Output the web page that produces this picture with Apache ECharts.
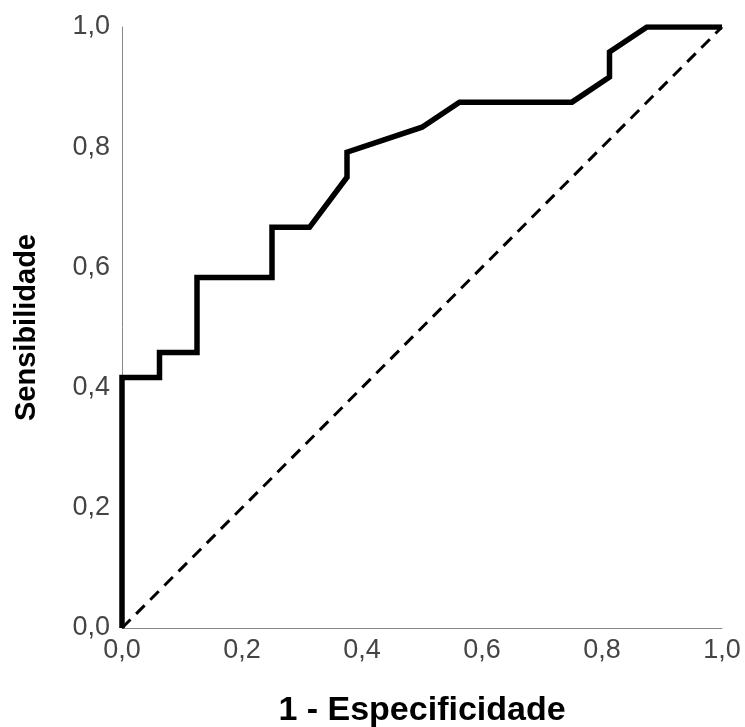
<!DOCTYPE html>
<html>
<head>
<meta charset="utf-8">
<script src="https://cdn.jsdelivr.net/npm/echarts@6/dist/echarts.min.js"></script>
<style>
  html, body { margin: 0; padding: 0; background: #fff; }
  #chart { width: 745px; height: 727px; }
</style>
</head>
<body>
<div id="chart"></div>
<script>
// ROC curve points (1 - specificity, sensitivity)
var fpr = [0, 0, 0.0625, 0.0625, 0.125, 0.125, 0.25, 0.25, 0.3125, 0.375, 0.375, 0.5, 0.5625, 0.75, 0.8125, 0.8125, 0.875, 1];
var tpr = [0, 0.4167, 0.4167, 0.4583, 0.4583, 0.5833, 0.5833, 0.6667, 0.6667, 0.75, 0.7917, 0.8333, 0.875, 0.875, 0.9167, 0.9583, 1, 1];
// reference diagonal
var refX = [0, 1];
var refY = [0, 1];

var chart = echarts.init(document.getElementById('chart'));

function fmt(v) {
  return v.toFixed(1).replace('.', ',');
}

var labelFont = '"Liberation Sans", Arial, sans-serif';

chart.setOption({
  animation: false,
  grid: {
    left: 122,
    right: 23,
    top: 27,
    bottom: 99,
    containLabel: false,
    outerBoundsMode: 'none'
  },
  xAxis: {
    type: 'value',
    min: 0,
    max: 1,
    interval: 0.2,
    name: '1 - Especificidade',
    nameLocation: 'middle',
    nameGap: 66,
    nameTextStyle: {
      fontFamily: labelFont,
      fontWeight: 'bold',
      fontSize: 34,
      color: '#000'
    },
    axisLine: { show: true, lineStyle: { color: '#888', width: 1 } },
    axisTick: { show: false },
    splitLine: { show: false },
    axisLabel: {
      formatter: fmt,
      fontFamily: labelFont,
      fontSize: 27,
      color: '#444',
      margin: 9
    }
  },
  yAxis: {
    type: 'value',
    min: 0,
    max: 1,
    interval: 0.2,
    name: 'Sensibilidade',
    nameLocation: 'middle',
    nameGap: 81,
    nameRotate: 90,
    nameTextStyle: {
      fontFamily: labelFont,
      fontWeight: 'bold',
      fontSize: 29,
      color: '#000'
    },
    axisLine: { show: true, lineStyle: { color: '#888', width: 1 } },
    axisTick: { show: false },
    splitLine: { show: false },
    axisLabel: {
      formatter: fmt,
      fontFamily: labelFont,
      fontSize: 27,
      color: '#444',
      margin: 12
    }
  },
  series: [
    {
      type: 'line',
      data: refX.map(function (x, i) { return [x, refY[i]]; }),
      showSymbol: false,
      lineStyle: { color: '#000', width: 3, type: [12, 8] },
      z: 2
    },
    {
      type: 'line',
      data: fpr.map(function (x, i) { return [x, tpr[i]]; }),
      showSymbol: false,
      lineStyle: { color: '#000', width: 5.5, join: 'miter' },
      z: 3
    }
  ]
});
</script>
</body>
</html>
